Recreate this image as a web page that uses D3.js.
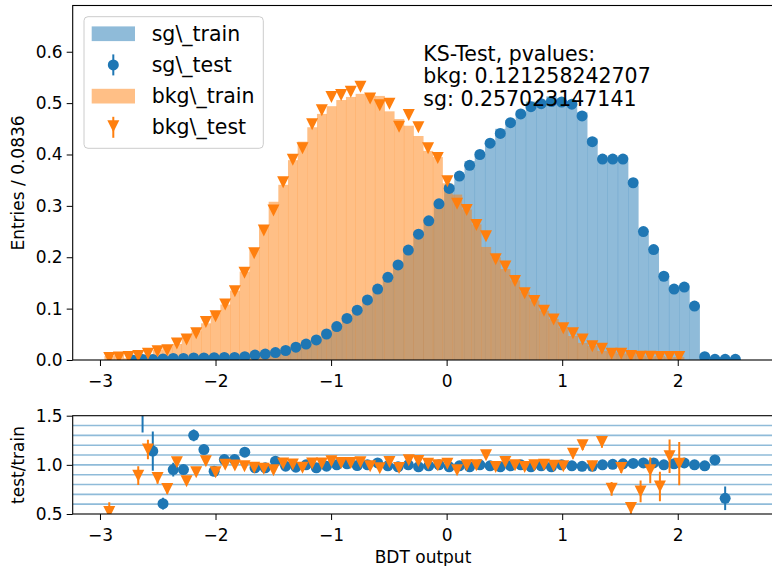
<!DOCTYPE html>
<html>
<head>
<meta charset="utf-8">
<script src="https://cdn.jsdelivr.net/npm/d3@7"></script>
<style>
  body { margin: 0; background: #fff; }
  svg { display: block; font-family: "DejaVu Sans", sans-serif; }
</style>
</head>
<body>
<svg id="chart" width="772" height="566"></svg>
<script>
// Binning (each sample has its own 60 bins)
const bkgLo = -2.9613, bkgWidth = 0.0836;
const sgLo = -2.764, sgWidth = 0.08845;

// Background, normalised entries per bin
const bkgTrain = [0.0077, 0.011, 0.0035, 0.009, 0.0104, 0.0196, 0.0252, 0.0312, 0.048, 0.0562,
  0.0714, 0.0919, 0.108, 0.135, 0.172, 0.214, 0.262, 0.308, 0.341, 0.389,
  0.425, 0.453, 0.479, 0.494, 0.506, 0.512, 0.518, 0.516, 0.514, 0.484,
  0.469, 0.456, 0.436, 0.407, 0.395, 0.344, 0.322, 0.293, 0.264, 0.220,
  0.200, 0.177, 0.155, 0.133, 0.116, 0.096, 0.080, 0.063, 0.0467, 0.0333,
  0.0274, 0.0178, 0.0159, 0.0124, 0.0142, 0.0089, 0.0069, 0.0077, 0.0055, 0.0059];
const bkgTest = [0.004, 0.005, 0.006, 0.008, 0.012, 0.017, 0.019, 0.032, 0.040, 0.052,
  0.074, 0.085, 0.108, 0.134, 0.170, 0.208, 0.252, 0.291, 0.346, 0.390,
  0.412, 0.459, 0.486, 0.512, 0.516, 0.522, 0.532, 0.509, 0.496, 0.499,
  0.454, 0.477, 0.453, 0.412, 0.393, 0.348, 0.304, 0.292, 0.263, 0.241,
  0.196, 0.182, 0.154, 0.130, 0.115, 0.096, 0.079, 0.062, 0.052, 0.040,
  0.027, 0.022, 0.012, 0.012, 0.008, 0.0065, 0.0065, 0.006, 0.006, 0.006];

// Signal, normalised entries per bin
const sgTrain = [0.0005, 0.0006, 0.0009, 0.0033, 0.0032, 0.0032, 0.0031, 0.0035, 0.0048, 0.0047,
  0.0047, 0.0058, 0.010, 0.0119, 0.014, 0.0188, 0.0256, 0.031, 0.0402, 0.0513,
  0.065, 0.080, 0.0977, 0.117, 0.135, 0.163, 0.189, 0.214, 0.25, 0.274,
  0.304, 0.341, 0.362, 0.387, 0.400, 0.426, 0.45, 0.467, 0.479, 0.503,
  0.504, 0.513, 0.502, 0.503, 0.482, 0.431, 0.391, 0.389, 0.387, 0.340,
  0.245, 0.211, 0.163, 0.137, 0.139, 0.105, 0.0066, 0.0012, 0.002, 0];
const sgTest = [0, 0.001, 0.001, 0.002, 0.003, 0.003, 0.004, 0.004, 0.0045, 0.005,
  0.005, 0.0065, 0.0097, 0.0115, 0.0145, 0.0185, 0.025, 0.031, 0.039, 0.0506,
  0.065, 0.081, 0.097, 0.117, 0.138, 0.161, 0.185, 0.214, 0.245, 0.271,
  0.304, 0.334, 0.358, 0.379, 0.400, 0.422, 0.441, 0.462, 0.479, 0.493,
  0.499, 0.503, 0.502, 0.498, 0.475, 0.425, 0.391, 0.391, 0.391, 0.345,
  0.250, 0.215, 0.163, 0.138, 0.142, 0.105, 0.0065, 0.0013, 0.0013, 0.0013];

// test/train ratios and their errors
const bkgRatio = [0.52, 0.42, 1.7, 0.89, 1.156, 0.867, 0.755, 1.027, 0.833, 0.925,
  1.037, 0.925, 1.0, 0.993, 0.986, 0.97, 0.96, 0.945, 1.014, 1.003,
  0.97, 1.014, 1.014, 1.037, 1.02, 1.02, 1.027, 0.986, 0.965, 1.03,
  0.968, 1.046, 1.04, 1.012, 0.995, 1.012, 0.944, 0.995, 0.995, 1.097,
  0.978, 1.03, 0.995, 0.978, 0.995, 1.0, 0.99, 0.985, 1.114, 1.2,
  0.985, 1.233, 0.756, 0.968, 0.562, 0.73, 0.944, 0.78, 1.087, 1.012];
const bkgRatioErr = [0.1, 0.05, 0.1, 0.095, 0.1, 0.06, 0.05, 0.04, 0.03, 0.03,
  0.02, 0.02, 0.02, 0.01, 0.01, 0.01, 0.01, 0.01, 0.01, 0.01,
  0.01, 0.01, 0.01, 0.01, 0.01, 0.01, 0.01, 0.01, 0.01, 0.01,
  0.01, 0.01, 0.01, 0.01, 0.01, 0.01, 0.01, 0.01, 0.01, 0.01,
  0.01, 0.01, 0.01, 0.01, 0.01, 0.01, 0.01, 0.01, 0.05, 0.05,
  0.03, 0.06, 0.07, 0.05, 0.06, 0.11, 0.13, 0.15, 0.17, 0.22];
const sgRatio = [null, 1.6, 1.14, 0.605, 0.952, 0.952, 1.30, 1.156, 0.935, 1.054,
  1.054, 1.129, 0.97, 0.97, 1.037, 0.986, 0.976, 1.0, 0.97, 0.986,
  1.0, 1.01, 0.993, 1.0, 1.02, 0.99, 0.98, 1.0, 0.98, 0.99,
  1.0, 0.98, 0.99, 0.98, 1.0, 0.99, 0.98, 0.99, 1.0, 0.98,
  0.99, 0.98, 1.0, 0.99, 0.985, 0.985, 1.0, 1.005, 1.01, 1.015,
  1.02, 1.02, 1.0, 1.01, 1.02, 1.0, 0.99, 1.05, 0.66, null];
const sgRatioErr = [0, 0.27, 0.2, 0.06, 0.07, 0.04, 0.06, 0.04, 0.03, 0.03,
  0.02, 0.02, 0.01, 0.01, 0.01, 0.01, 0.01, 0.01, 0.01, 0.01,
  0.01, 0.01, 0.01, 0.01, 0.01, 0.01, 0.01, 0.01, 0.01, 0.01,
  0.01, 0.01, 0.01, 0.01, 0.01, 0.01, 0.01, 0.01, 0.01, 0.01,
  0.01, 0.01, 0.01, 0.01, 0.01, 0.01, 0.01, 0.01, 0.01, 0.01,
  0.01, 0.01, 0.01, 0.01, 0.01, 0.01, 0.01, 0.04, 0.12, 0];

const xTicks = [-3, -2, -1, 0, 1, 2];
const yTicksTop = [0, 0.1, 0.2, 0.3, 0.4, 0.5, 0.6];
const yTicksBot = [0.5, 1.0, 1.5];
const ratioLines = [0.6, 0.7, 0.8, 0.9, 1.0, 1.1, 1.2, 1.3, 1.4];
const ksLines = ["KS-Test, pvalues:", "bkg: 0.121258242707", "sg: 0.257023147141"];

const blue = "#1f77b4", orange = "#ff7f0e";
const svg = d3.select("#chart");

// Scales
const x = d3.scaleLinear().domain([-3.236, 2.833]).range([72.7, 774]);
const yTop = d3.scaleLinear().domain([0, 0.69]).range([360, 5.5]);
const yBot = d3.scaleLinear().domain([0.5, 1.5]).range([514, 415.7]);

function toBins(vals, lo, w) {
  return vals.map((v, i) => ({ x0: lo + i * w, x1: lo + (i + 1) * w, xc: lo + (i + 0.5) * w, v: v, i: i }));
}
const bkgTrainBins = toBins(bkgTrain, bkgLo, bkgWidth);
const bkgTestBins = toBins(bkgTest, bkgLo, bkgWidth);
const sgTrainBins = toBins(sgTrain, sgLo, sgWidth);
const sgTestBins = toBins(sgTest, sgLo, sgWidth);

const tri = (cx, cy, s) => `M${cx - s},${cy - s}L${cx + s},${cy - s}L${cx},${cy + s}Z`;
const triSize = 6, dotR = 5.5;

// clip paths
const defs = svg.append("defs");
defs.append("clipPath").attr("id", "clipTop").append("rect")
  .attr("x", 72.7).attr("y", 5.5).attr("width", 701.3).attr("height", 354.5);
defs.append("clipPath").attr("id", "clipBot").append("rect")
  .attr("x", 72.7).attr("y", 415.7).attr("width", 701.3).attr("height", 98.3);

// ---- top panel ----
const topG = svg.append("g").attr("clip-path", "url(#clipTop)");

function drawBars(bins, color) {
  topG.append("g").selectAll("rect")
    .data(bins.filter(d => d.v > 0))
    .enter().append("rect")
    .attr("x", d => x(d.x0))
    .attr("width", d => x(d.x1) - x(d.x0) + 0.3)
    .attr("y", d => yTop(d.v))
    .attr("height", d => yTop(0) - yTop(d.v))
    .attr("fill", color)
    .attr("fill-opacity", 0.5);
}
drawBars(sgTrainBins, blue);
drawBars(bkgTrainBins, orange);

topG.append("g").selectAll("circle")
  .data(sgTestBins)
  .enter().append("circle")
  .attr("cx", d => x(d.xc))
  .attr("cy", d => yTop(d.v))
  .attr("r", dotR)
  .attr("fill", blue);

topG.append("g").selectAll("path")
  .data(bkgTestBins)
  .enter().append("path")
  .attr("d", d => tri(x(d.xc), yTop(d.v), triSize))
  .attr("fill", orange);

// ---- bottom panel ----
const botG = svg.append("g").attr("clip-path", "url(#clipBot)");
botG.append("g").selectAll("line")
  .data(ratioLines)
  .enter().append("line")
  .attr("x1", 72.7).attr("x2", 774)
  .attr("y1", d => yBot(d)).attr("y2", d => yBot(d))
  .attr("stroke", blue).attr("stroke-opacity", 0.5).attr("stroke-width", 1.6);

function drawRatio(vals, errs, lo, w, color, isTri) {
  const pts = vals.map((v, i) => ({ xc: lo + (i + 0.5) * w, v: v, e: errs[i] })).filter(d => d.v !== null);
  const g = botG.append("g");
  g.selectAll("line").data(pts).enter().append("line")
    .attr("x1", d => x(d.xc)).attr("x2", d => x(d.xc))
    .attr("y1", d => yBot(d.v - d.e)).attr("y2", d => yBot(d.v + d.e))
    .attr("stroke", color).attr("stroke-width", 2);
  if (isTri) {
    g.selectAll("path").data(pts).enter().append("path")
      .attr("d", d => tri(x(d.xc), yBot(d.v), triSize))
      .attr("fill", color);
  } else {
    g.selectAll("circle").data(pts).enter().append("circle")
      .attr("cx", d => x(d.xc)).attr("cy", d => yBot(d.v)).attr("r", dotR)
      .attr("fill", color);
  }
}
drawRatio(sgRatio, sgRatioErr, sgLo, sgWidth, blue, false);
drawRatio(bkgRatio, bkgRatioErr, bkgLo, bkgWidth, orange, true);

// ---- axes ----
function styleAxis(g) {
  g.select(".domain").remove();
  g.selectAll(".tick line").attr("stroke", "#000").attr("stroke-width", 1);
  g.selectAll(".tick text").attr("font-size", "17px").attr("fill", "#000")
    .attr("font-family", "DejaVu Sans");
}
svg.append("g").attr("transform", "translate(0,360)")
  .call(d3.axisBottom(x).tickValues(xTicks).tickFormat(d3.format("d")).tickSize(6).tickPadding(9))
  .call(styleAxis);
svg.append("g").attr("transform", "translate(72.7,0)")
  .call(d3.axisLeft(yTop).tickValues(yTicksTop).tickFormat(d3.format(".1f")).tickSize(6).tickPadding(4))
  .call(styleAxis);
svg.append("g").attr("transform", "translate(0,514)")
  .call(d3.axisBottom(x).tickValues(xTicks).tickFormat(d3.format("d")).tickSize(6).tickPadding(9))
  .call(styleAxis);
svg.append("g").attr("transform", "translate(72.7,0)")
  .call(d3.axisLeft(yBot).tickValues(yTicksBot).tickFormat(d3.format(".1f")).tickSize(6).tickPadding(4))
  .call(styleAxis);

// frames
svg.append("rect").attr("x", 72.7).attr("y", 5.5).attr("width", 701.3).attr("height", 354.5)
  .attr("fill", "none").attr("stroke", "#000").attr("stroke-width", 1.1);
svg.append("rect").attr("x", 72.7).attr("y", 415.7).attr("width", 701.3).attr("height", 98.3)
  .attr("fill", "none").attr("stroke", "#000").attr("stroke-width", 1.1);

// axis labels
svg.append("text").attr("transform", "translate(24,183) rotate(-90)")
  .attr("text-anchor", "middle").attr("font-size", "17px").text("Entries / 0.0836");
svg.append("text").attr("transform", "translate(24,465) rotate(-90)")
  .attr("text-anchor", "middle").attr("font-size", "17px").text("test/train");
svg.append("text").attr("x", 423).attr("y", 563)
  .attr("text-anchor", "middle").attr("font-size", "17px").text("BDT output");

// KS text
svg.append("g").selectAll("text").data(ksLines).enter().append("text")
  .attr("x", 423.3).attr("y", (d, i) => 60.7 + i * 22.7)
  .attr("font-size", "20.5px").text(d => d);

// legend
const leg = svg.append("g");
leg.append("rect").attr("x", 84).attr("y", 16.7).attr("width", 179.3).attr("height", 131.6)
  .attr("rx", 4).attr("fill", "#fff").attr("fill-opacity", 0.8)
  .attr("stroke", "#cccccc").attr("stroke-width", 1);
const legItems = [
  { label: "sg\\_train", color: blue, kind: "patch" },
  { label: "sg\\_test", color: blue, kind: "circle" },
  { label: "bkg\\_train", color: orange, kind: "patch" },
  { label: "bkg\\_test", color: orange, kind: "tri" }
];
legItems.forEach((it, i) => {
  const base = 40.7 + i * 31.2;
  const cy = base - 7;
  if (it.kind === "patch") {
    leg.append("rect").attr("x", 91.7).attr("y", cy - 7.3).attr("width", 43.3).attr("height", 14.7)
      .attr("fill", it.color).attr("fill-opacity", 0.5);
  } else {
    leg.append("line").attr("x1", 113.3).attr("x2", 113.3).attr("y1", cy - 10.5).attr("y2", cy + 10.5)
      .attr("stroke", it.color).attr("stroke-width", 2);
    if (it.kind === "circle") {
      leg.append("circle").attr("cx", 113.3).attr("cy", cy).attr("r", dotR).attr("fill", it.color);
    } else {
      leg.append("path").attr("d", tri(113.3, cy - 1, triSize)).attr("fill", it.color);
    }
  }
  leg.append("text").attr("x", 151.7).attr("y", base).attr("font-size", "20.5px").text(it.label);
});
</script>
</body>
</html>
